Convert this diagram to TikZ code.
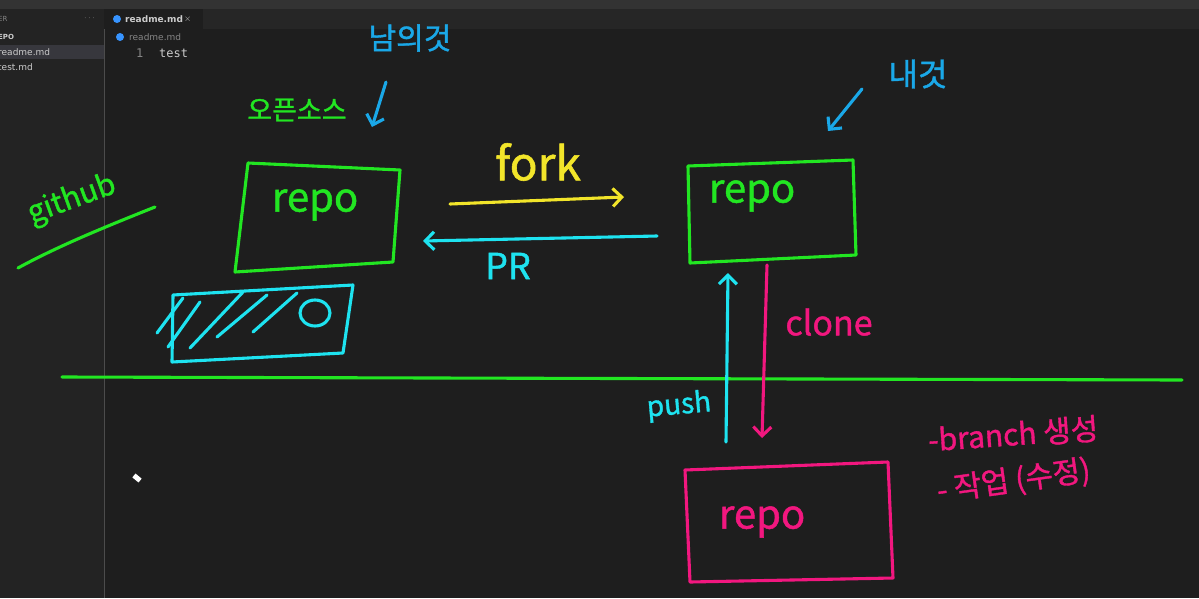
\documentclass[tikz,border=0pt]{standalone}
\usepackage{fontspec}
\setmainfont{DejaVu Sans}
\newfontfamily\hand[FakeBold=1.2]{Noto Sans CJK KR}
\newfontfamily\uimono{DejaVu Sans Mono}
\usetikzlibrary{arrows.meta}
\definecolor{editorbg}{HTML}{1E1E1E}
\definecolor{sidebg}{HTML}{232323}
\definecolor{titlebg}{HTML}{333333}
\definecolor{tabbg}{HTML}{262626}
\definecolor{selrow}{HTML}{37373D}
\definecolor{uitext}{HTML}{CCCCCC}
\definecolor{uidim}{HTML}{858585}
\definecolor{infoblue}{HTML}{3794FF}
\definecolor{pgreen}{HTML}{22E622}
\definecolor{pcyan}{HTML}{1EE3F0}
\definecolor{pblue}{HTML}{1AA8E8}
\definecolor{pyellow}{HTML}{F2E52A}
\definecolor{ppink}{HTML}{F2177F}
\tikzset{
  stroke/.style={line width=3.1pt, line cap=round, line join=round},
  tip/.style={-{Straight Barb[length=9pt,width=18pt,line width=3.1pt]}},
  hw/.style={font=\hand, inner sep=0pt},
  ui/.style={font=\fontsize{9}{10}\selectfont, text=uitext, inner sep=0pt, anchor=west},
}
\begin{document}
\begin{tikzpicture}[x=1pt,y=-1pt]
\useasboundingbox (0,0) rectangle (1199,598);
\clip (0,0) rectangle (1199,598);
% ---------- editor chrome ----------
\fill[editorbg] (0,0) rectangle (1199,598);
\fill[sidebg] (0,0) rectangle (104,598);
\draw[black!70, line width=0.6pt] (104,9) -- (104,598);
\fill[titlebg] (0,0) rectangle (1199,9);
\fill[tabbg] (104,9) rectangle (1199,29);
\fill[editorbg] (104,9) rectangle (203,29);
\fill[infoblue] (117,19) circle (4);
\node[ui, font=\fontsize{9}{10}\selectfont\bfseries] (tab) at (125,19) {readme.md};
\node[ui] (tabx) at (184,19) {$\times$};
\fill[infoblue] (120,37) circle (4);
\node[ui, text=uidim] (crumb) at (129,37) {readme.md};
\node[ui, text=uidim, font=\uimono\fontsize{12}{13}\selectfont] (ln) at (136,53) {1};
\node[ui, font=\uimono\fontsize{12}{13}\selectfont] (code) at (159,53) {test};
% sidebar
\node[ui, text=uidim, font=\fontsize{7}{8}\selectfont] (ex) at (-2,19) {ER};
\node[ui, text=uidim] (dots) at (84,18) {$\cdots$};
\node[ui, font=\fontsize{7}{8}\selectfont\bfseries] (repohead) at (-2,37) {EPO};
\fill[selrow] (0,45) rectangle (104,59);
\node[ui] (f1) at (-2,52) {readme.md};
\node[ui] (f2) at (-2,67) {test.md};
% cursor
\fill[white, rotate around={-40:(137,478)}] (133,475.5) rectangle (141,480.5);
% ---------- hand drawing ----------
% github
\node[hw, text=pgreen, font=\hand\fontsize{30}{30}\selectfont, rotate=20] (gh) at (72,200) {github};
\draw[pgreen, stroke] (18,268) .. controls (60,245) and (110,225) .. (155,207);
% separator
\draw[pgreen, stroke] (62,377) -- (1182,380);
% left repo (open source)
\draw[pgreen, stroke] (248,163) -- (400,170) -- (393,262) -- (235,272) -- cycle;
\node[hw, text=pgreen, font=\hand\fontsize{40}{40}\selectfont] (repoL) at (315,205) {repo};
\node[hw, text=pgreen, font=\hand\fontsize{27}{27}\selectfont] (oss) at (297,110) {오픈소스};
\node[hw, text=pblue, font=\hand\fontsize{30}{30}\selectfont] (others) at (410,38) {남의것};
\coordinate (othA) at (386,82);
\coordinate (othB) at (372,127);
\draw[pblue, stroke, tip] (othA) -- (othB);
% hatched cyan box
\draw[pcyan, stroke] (173,295) -- (353,285) -- (343,353) -- (172,362) -- cycle;
\draw[pcyan, stroke] (157,333) -- (183,298);
\draw[pcyan, stroke] (168,347) -- (200,302);
\draw[pcyan, stroke] (190,348) -- (243,292);
\draw[pcyan, stroke] (217,337) -- (267,295);
\draw[pcyan, stroke] (253,332) -- (297,293);
\draw[pcyan, stroke] (315,313) ellipse (15 and 13);
% right repo (mine)
\draw[pgreen, stroke] (688,166) -- (853,160) -- (856,255) -- (690,263) -- cycle;
\node[hw, text=pgreen, font=\hand\fontsize{40}{40}\selectfont] (repoR) at (752,196) {repo};
\node[hw, text=pblue, font=\hand\fontsize{32}{32}\selectfont] (mine) at (918,74) {내것};
\coordinate (mineA) at (862,89);
\coordinate (mineB) at (828,131);
\draw[pblue, stroke, tip] (mineA) -- (mineB);
% fork / PR
\coordinate (forkA) at (450,204);
\coordinate (forkB) at (624,197);
\draw[pyellow, stroke, tip] (forkA) -- (forkB);
\node[hw, text=pyellow, font=\hand\fontsize{46}{46}\selectfont] (fork) at (538,162) {fork};
\coordinate (prA) at (657,236);
\coordinate (prB) at (423,241);
\draw[pcyan, stroke, tip] (prA) -- (prB);
\node[hw, text=pcyan, font=\hand\fontsize{36}{36}\selectfont] (pr) at (508,266) {PR};
% push / clone
\coordinate (pushA) at (726,442);
\coordinate (pushB) at (728,273);
\draw[pcyan, stroke, tip] (pushA) -- (pushB);
\node[hw, text=pcyan, font=\hand\fontsize{28}{28}\selectfont, rotate=5] (push) at (679,406) {push};
\coordinate (cloneA) at (767,265);
\coordinate (cloneB) at (762,438);
\draw[ppink, stroke, tip] (cloneA) -- (cloneB);
\node[hw, text=ppink, font=\hand\fontsize{34}{34}\selectfont] (clone) at (829,322) {clone};
% local repo
\draw[ppink, stroke] (685,470) -- (888,462) -- (893,578) -- (690,582) -- cycle;
\node[hw, text=ppink, font=\hand\fontsize{40}{40}\selectfont] (repoB) at (762,522) {repo};
\node[hw, text=ppink, font=\hand\fontsize{30}{30}\selectfont, anchor=west, rotate=4] (branch) at (928,440) {-branch 생성};
\node[hw, text=ppink, font=\hand\fontsize{30}{30}\selectfont, anchor=west, rotate=8] (work) at (937,492) {- 작업 (수정)};
\end{tikzpicture}
\end{document}
